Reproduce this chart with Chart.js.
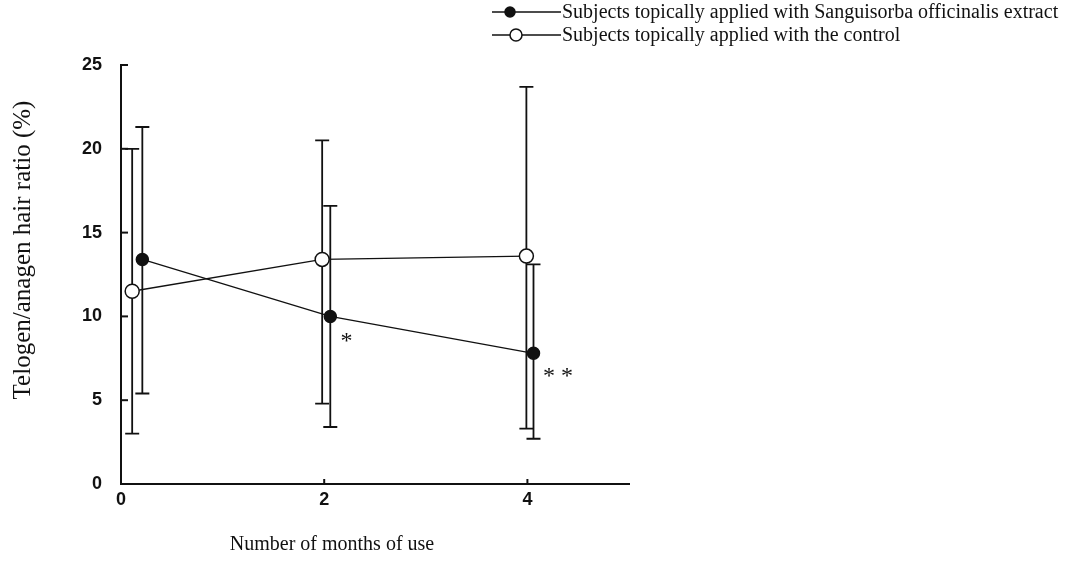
<!DOCTYPE html>
<html><head><meta charset="utf-8">
<script src="https://cdn.jsdelivr.net/npm/chart.js@4.4.1/dist/chart.umd.min.js"></script>
<style>html,body{margin:0;padding:0;background:#fff}#wrap{width:1075px;height:567px}</style>
</head><body><div id="wrap"><canvas id="c" width="1075" height="567"></canvas></div>
<script>
const sangLabel = 'Subjects topically applied with Sanguisorba officinalis extract';
const ctrlLabel = 'Subjects topically applied with the control';
const sangMonths = [0.21, 2.06, 4.06];
const sangValues = [13.4, 10.0, 7.8];
const sangUpper = [21.3, 16.6, 13.1];
const sangLower = [5.4, 3.4, 2.7];
const ctrlMonths = [0.11, 1.98, 3.99];
const ctrlValues = [11.5, 13.4, 13.6];
const ctrlUpper = [20.0, 20.5, 23.7];
const ctrlLower = [3.0, 4.8, 3.3];
const xTicks = [0, 2, 4];
const yTicks = [0, 5, 10, 15, 20, 25];
const starMonths = [2.22, 4.3];
const starValues = [8.5, 6.4];
const starTexts = ['*', '* *'];
const xTitle = 'Number of months of use';
const yTitle = 'Telogen/anagen hair ratio (%)';

const INK = '#111';
const SERIF = '"Liberation Serif", "Times New Roman", serif';

const errorBars = {
  id: 'errorBars',
  beforeDatasetsDraw(chart) {
    const ctx = chart.ctx, xs = chart.scales.x, ys = chart.scales.y;
    chart.data.datasets.forEach(ds => {
      ctx.save();
      ctx.strokeStyle = INK; ctx.lineWidth = 1.8;
      ds.data.forEach((p, i) => {
        const px = xs.getPixelForValue(p.x);
        const top = ys.getPixelForValue(ds.errHigh[i]);
        const bot = ys.getPixelForValue(ds.errLow[i]);
        ctx.beginPath();
        ctx.moveTo(px, top); ctx.lineTo(px, bot);
        ctx.moveTo(px - 7, top); ctx.lineTo(px + 7, top);
        ctx.moveTo(px - 7, bot); ctx.lineTo(px + 7, bot);
        ctx.stroke();
      });
      ctx.restore();
    });
  }
};

const extras = {
  id: 'extras',
  afterDraw(chart) {
    const ctx = chart.ctx, xs = chart.scales.x, ys = chart.scales.y, a = chart.chartArea;
    ctx.save();
    ctx.strokeStyle = INK; ctx.lineWidth = 2;
    // inward ticks
    yTicks.forEach(v => {
      if (v === 0) return;
      const py = ys.getPixelForValue(v);
      ctx.beginPath(); ctx.moveTo(a.left, py); ctx.lineTo(a.left + 7, py); ctx.stroke();
    });
    xTicks.forEach(v => {
      if (v === 0) return;
      const px = xs.getPixelForValue(v);
      ctx.beginPath(); ctx.moveTo(px, a.bottom); ctx.lineTo(px, a.bottom - 5); ctx.stroke();
    });
    // significance marks
    ctx.fillStyle = INK;
    ctx.font = '24px ' + SERIF;
    ctx.textAlign = 'center'; ctx.textBaseline = 'middle';
    starTexts.forEach((t, i) => {
      ctx.fillText(t, xs.getPixelForValue(starMonths[i]), ys.getPixelForValue(starValues[i]));
    });
    // axis titles
    ctx.font = '20px ' + SERIF;
    ctx.fillText(xTitle, 332, 545);
    ctx.save();
    ctx.translate(23, 250);
    ctx.rotate(-Math.PI / 2);
    ctx.font = '25px ' + SERIF;
    ctx.fillText(yTitle, 0, 0);
    ctx.restore();
    // legend
    ctx.font = '20px ' + SERIF;
    ctx.textAlign = 'left';
    chart.data.datasets.forEach((ds, i) => {
      const y = 12 + i * 23;
      ctx.lineWidth = 1.5;
      ctx.beginPath(); ctx.moveTo(492, y); ctx.lineTo(561, y); ctx.stroke();
      ctx.beginPath(); ctx.arc(510 + i * 6, y, ds.pointRadius - 1, 0, Math.PI * 2);
      ctx.fillStyle = ds.pointBackgroundColor; ctx.fill();
      ctx.lineWidth = 1.5; ctx.stroke();
      ctx.fillStyle = INK;
      ctx.fillText(ds.label, 562, y + 1);
    });
    ctx.restore();
  }
};

const toPts = (xs, ys) => xs.map((x, i) => ({ x: x, y: ys[i] }));

new Chart(document.getElementById('c'), {
  type: 'line',
  data: {
    datasets: [
      { label: sangLabel, data: toPts(sangMonths, sangValues), errLow: sangLower, errHigh: sangUpper,
        borderColor: INK, borderWidth: 1.3, pointRadius: 6, pointBackgroundColor: INK, pointBorderColor: INK,
        pointBorderWidth: 1.5, tension: 0, fill: false },
      { label: ctrlLabel, data: toPts(ctrlMonths, ctrlValues), errLow: ctrlLower, errHigh: ctrlUpper,
        borderColor: INK, borderWidth: 1.3, pointRadius: 7, pointBackgroundColor: '#fff', pointBorderColor: INK,
        pointBorderWidth: 1.5, tension: 0, fill: false }
    ]
  },
  options: {
    responsive: false, animation: false, devicePixelRatio: 1,
    layout: { padding: { left: 0, right: 446, top: 65, bottom: 0 } },
    plugins: { legend: { display: false }, tooltip: { enabled: false } },
    scales: {
      x: {
        type: 'linear', min: 0, max: 5,
        afterBuildTicks: s => { s.ticks = xTicks.map(v => ({ value: v })); },
        afterFit: s => { s.height = 83; },
        grid: { display: false, drawTicks: false },
        border: { display: true, color: INK, width: 2 },
        ticks: { color: INK, padding: 5, font: { family: '"Liberation Sans", Arial, sans-serif', size: 18, weight: 'bold' } },
        title: { display: false, text: xTitle }
      },
      y: {
        type: 'linear', min: 0, max: 25,
        afterBuildTicks: s => { s.ticks = yTicks.map(v => ({ value: v })); },
        afterFit: s => { s.width = 121; },
        grid: { display: false, drawTicks: false },
        border: { display: true, color: INK, width: 2 },
        ticks: { color: INK, padding: 19, font: { family: '"Liberation Sans", Arial, sans-serif', size: 18, weight: 'bold' } },
        title: { display: false, text: yTitle }
      }
    }
  },
  plugins: [errorBars, extras]
});
</script></body></html>
